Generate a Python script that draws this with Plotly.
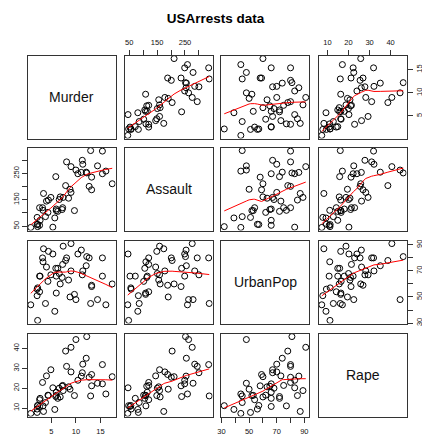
import numpy as np
import plotly.graph_objects as go

# USArrests data (50 states)
murder = [13.2, 10.0, 8.1, 8.8, 9.0, 7.9, 3.3, 5.9, 15.4, 17.4, 5.3, 2.6, 10.4, 7.2, 2.2,
          6.0, 9.7, 15.4, 2.1, 11.3, 4.4, 12.1, 2.7, 16.1, 9.0, 6.0, 4.3, 12.2, 2.1, 7.4,
          11.4, 11.1, 13.0, 0.8, 7.3, 6.6, 4.9, 6.3, 3.4, 14.4, 3.8, 13.2, 12.7, 3.2, 2.2,
          8.5, 4.0, 5.7, 2.6, 6.8]
assault = [236, 263, 294, 190, 276, 204, 110, 238, 335, 211, 46, 120, 249, 113, 56,
           115, 109, 249, 83, 300, 149, 255, 72, 259, 178, 109, 102, 252, 57, 159,
           285, 254, 337, 45, 120, 151, 159, 106, 174, 279, 86, 188, 201, 120, 48,
           156, 145, 81, 53, 161]
urbanpop = [58, 48, 80, 50, 91, 78, 77, 72, 80, 60, 83, 54, 83, 65, 57,
            66, 52, 66, 51, 67, 85, 74, 66, 44, 70, 53, 62, 81, 56, 89,
            70, 86, 45, 44, 75, 68, 67, 72, 87, 48, 45, 59, 80, 80, 32,
            63, 73, 39, 66, 60]
rape = [21.2, 44.5, 31.0, 19.5, 40.6, 38.7, 11.1, 15.8, 31.9, 25.8, 20.2, 14.2, 24.0, 21.0, 11.3,
        18.0, 16.3, 22.2, 7.8, 27.8, 16.3, 35.1, 14.9, 17.1, 28.2, 16.4, 16.5, 46.0, 9.5, 18.8,
        32.1, 26.1, 16.1, 7.3, 21.4, 20.0, 29.3, 14.9, 8.3, 22.5, 12.8, 26.9, 25.5, 22.9, 11.2,
        20.7, 26.2, 9.3, 10.8, 15.6]

var_names = ["Murder", "Assault", "UrbanPop", "Rape"]
variables = [murder, assault, urbanpop, rape]

tick_vals = [[5, 10, 15], [50, 100, 150, 200, 250, 300], [30, 40, 50, 60, 70, 80, 90], [10, 20, 30, 40]]
tick_text = [["5", "10", "15"], ["50", "", "150", "", "250", ""],
             ["30", "", "50", "", "70", "", "90"], ["10", "20", "30", "40"]]


def lowess(x, y, f=2/3, it=3):
    x = np.asarray(x, float)
    y = np.asarray(y, float)
    o = np.argsort(x, kind="stable")
    x = x[o]; y = y[o]
    n = len(x)
    delta = 0.01 * (x[-1] - x[0])
    ns = max(min(int(f * n + 1e-7), n), 2)
    rw = np.ones(n)
    ys = np.zeros(n)
    rng = x[-1] - x[0]

    def lowest(xs, nleft, nright, userw):
        h = max(xs - x[nleft], x[nright] - xs)
        h9 = 0.999 * h; h1 = 0.001 * h
        w = np.zeros(n)
        a = 0.0
        j = nleft
        while j < n:
            r = abs(x[j] - xs)
            if r <= h9:
                w[j] = 1.0 if r <= h1 else (1 - (r / h) ** 3) ** 3
                if userw:
                    w[j] *= rw[j]
                a += w[j]
            elif x[j] > xs:
                break
            j += 1
        nrt = j - 1
        if a <= 0:
            return None
        w[nleft:nrt + 1] /= a
        if h > 0:
            idx = slice(nleft, nrt + 1)
            a2 = np.sum(w[idx] * x[idx])
            b = xs - a2
            c = np.sum(w[idx] * (x[idx] - a2) ** 2)
            if np.sqrt(c) > 0.001 * rng:
                b = b / c
                w[idx] = w[idx] * (b * (x[idx] - a2) + 1.0)
        return float(np.sum(w[nleft:nrt + 1] * y[nleft:nrt + 1]))

    for iteration in range(it + 1):
        nleft = 0; nright = ns - 1; last = -1; i = 0
        while True:
            if nright < n - 1:
                d1 = x[i] - x[nleft]
                d2 = x[nright + 1] - x[i]
                if d1 > d2:
                    nleft += 1; nright += 1
                    continue
            val = lowest(x[i], nleft, nright, iteration > 0)
            ys[i] = val if val is not None else y[i]
            if last < i - 1:
                denom = x[i] - x[last]
                for j in range(last + 1, i):
                    alpha = (x[j] - x[last]) / denom
                    ys[j] = alpha * ys[i] + (1 - alpha) * ys[last]
            last = i
            cut = x[last] + delta
            i = last + 1
            while i < n:
                if x[i] > cut:
                    break
                if x[i] == x[last]:
                    ys[i] = ys[last]
                    last = i
                i += 1
            i = max(last + 1, i - 1)
            if last >= n - 1:
                break
        res = y - ys
        if iteration >= it:
            break
        cmad = 6 * np.median(np.abs(res))
        if cmad < 1e-7 * np.mean(np.abs(res)):
            break
        c9 = 0.999 * cmad; c1 = 0.001 * cmad
        r = np.abs(res)
        rw = np.where(r <= c1, 1.0, np.where(r <= c9, (1 - (r / cmad) ** 2) ** 2, 0.0))
    return x, ys


W, H = 422, 434
lefts = [27.5, 124.5, 221, 318.5]
pw = 88
tops = [55.5, 147.5, 240.5, 333.5]
ph = 83

fig = go.Figure()

def ext_range(v):
    lo, hi = min(v), max(v)
    d = (hi - lo) * 0.04
    return [lo - d, hi + d]

tickfont = dict(family="Liberation Sans, Arial, sans-serif", size=7.5, color="#111")

for r in range(4):
    for c in range(4):
        k = r * 4 + c + 1
        xa = "x" if k == 1 else f"x{k}"
        ya = "y" if k == 1 else f"y{k}"
        xdom = [lefts[c] / W, (lefts[c] + pw) / W]
        ydom = [1 - (tops[r] + ph) / H, 1 - tops[r] / H]
        xax = dict(domain=xdom, anchor=ya, range=ext_range(variables[c]), showgrid=False,
                   zeroline=False, showline=True, linecolor="#333", linewidth=1, mirror=True,
                   ticks="", showticklabels=False, fixedrange=True, automargin=False)
        yax = dict(domain=ydom, anchor=xa, range=ext_range(variables[r]), showgrid=False,
                   zeroline=False, showline=True, linecolor="#333", linewidth=1, mirror=True,
                   ticks="", showticklabels=False, fixedrange=True, automargin=False)
        if (r == 0 and c in (1, 3)) or (r == 3 and c in (0, 2)):
            xax.update(side="top" if r == 0 else "bottom", ticks="outside", ticklen=5,
                       tickcolor="#333", showticklabels=True, tickvals=tick_vals[c],
                       ticktext=tick_text[c], tickfont=tickfont, tickangle=0,
                       ticklabelstandoff=2)
        if (c == 0 and r in (1, 3)) or (c == 3 and r in (0, 2)):
            yax.update(side="left" if c == 0 else "right", ticks="outside", ticklen=5,
                       tickcolor="#333", showticklabels=True, tickvals=tick_vals[r],
                       ticktext=tick_text[r], tickfont=tickfont, tickangle=-90)
        fig.layout["xaxis" if k == 1 else f"xaxis{k}"] = xax
        fig.layout["yaxis" if k == 1 else f"yaxis{k}"] = yax
        if r == c:
            fig.add_annotation(x=np.mean(ext_range(variables[c])), y=np.mean(ext_range(variables[r])),
                               xref=xa, yref=ya, text=var_names[r], showarrow=False,
                               font=dict(family="Liberation Sans, Arial, sans-serif", size=14, color="#111"))
        else:
            xv = variables[c]; yv = variables[r]
            fig.add_trace(go.Scatter(x=xv, y=yv, mode="markers", xaxis=xa, yaxis=ya,
                                     marker=dict(symbol="circle-open", size=6, color="#000",
                                                 line=dict(width=1, color="#000")),
                                     showlegend=False, hoverinfo="skip", cliponaxis=True))
            sx, sy = lowess(xv, yv)
            fig.add_trace(go.Scatter(x=sx, y=sy, mode="lines", xaxis=xa, yaxis=ya,
                                     line=dict(color="red", width=1), showlegend=False,
                                     hoverinfo="skip"))

fig.update_layout(
    width=W, height=H, margin=dict(l=0, r=0, t=0, b=0, autoexpand=False),
    paper_bgcolor="white", plot_bgcolor="white",
    title=dict(text="<b>USArrests data</b>", x=215.5 / W, xanchor="center", y=1 - 18 / H, yanchor="middle",
               font=dict(family="Liberation Sans, Arial, sans-serif", size=13.5, color="#000")),
)

fig.write_html("out.html", config={"displayModeBar": False, "staticPlot": True},
               post_script="document.body.style.margin='0';document.body.style.overflow='hidden';")
